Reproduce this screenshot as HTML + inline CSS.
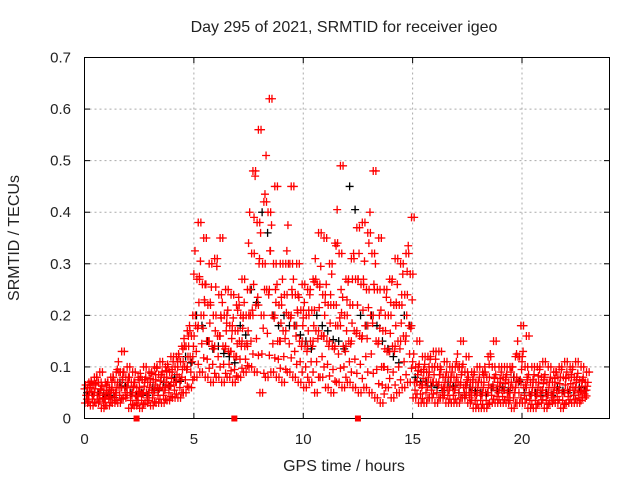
<!DOCTYPE html>
<html><head><meta charset="utf-8"><style>
body{margin:0;background:#fff;}
svg text{font-family:"Liberation Sans",sans-serif;font-size:15px;fill:#222;}
svg text.big{font-size:16px;}
</style></head><body>
<svg id="chart" width="640" height="480" viewBox="0 0 640 480">
<rect width="640" height="480" fill="#fff"/>
<text class="big" x="344" y="32" text-anchor="middle">Day 295 of 2021, SRMTID for receiver igeo</text>
<text class="big" transform="translate(19,238) rotate(-90)" text-anchor="middle">SRMTID / TECUs</text>
<text class="big" x="344" y="471" text-anchor="middle">GPS time / hours</text>
<g id="grid"></g><g id="marks"></g>
<rect x="84.5" y="57.5" width="525" height="361" fill="none" stroke="#000" stroke-width="1"/>
<g id="axes"></g>
</svg>
<script>
const xTicks=[0,5,10,15,20];
const yTicks=[0,0.1,0.2,0.3,0.4,0.5,0.6,0.7];
const yTickLabels=["0","0.1","0.2","0.3","0.4","0.5","0.6","0.7"];
const binHours=0.25;
const redLo=[.03,.025,.03,.02,.025,.03,.03,.04,.02,.025,.02,.03,.025,.03,.03,.035,.04,.04,.05,.06,.08,.09,.08,.07,.08,.07,.08,.07,.08,.09,.1,.09,.05,.08,.09,.08,.07,.09,.08,.07,.06,.07,.05,.08,.06,.05,.07,.06,.07,.06,.05,.06,.05,.04,.03,.06,.04,.05,.06,.07,.04,.03,.03,.04,.03,.04,.03,.03,.03,.04,.03,.02,.02,.02,.03,.03,.03,.03,.02,.03,.03,.02,.02,.03,.02,.03,.03,.02,.03,.03,.03,.04];
const redMid=[.045,.05,.045,.04,.05,.05,.06,.06,.05,.045,.05,.05,.055,.06,.06,.065,.07,.08,.1,.12,.18,.2,.15,.14,.16,.14,.13,.12,.15,.14,.2,.22,.2,.25,.2,.15,.17,.2,.18,.15,.14,.15,.17,.16,.15,.14,.18,.14,.15,.17,.16,.18,.2,.15,.1,.13,.14,.15,.16,.18,.07,.065,.07,.07,.07,.06,.06,.06,.07,.06,.05,.05,.05,.05,.06,.055,.055,.05,.06,.07,.06,.05,.05,.055,.05,.05,.055,.05,.055,.06,.05,.055];
const redUpper=[.06,.065,.07,.055,.06,.07,.09,.08,.07,.06,.075,.07,.075,.085,.08,.09,.1,.11,.14,.16,.27,.26,.22,.2,.24,.2,.18,.17,.2,.2,.32,.38,.3,.4,.3,.22,.24,.3,.24,.21,.2,.21,.26,.24,.22,.22,.32,.2,.22,.27,.26,.25,.32,.25,.17,.2,.22,.22,.24,.28,.1,.09,.09,.1,.1,.08,.08,.08,.1,.09,.07,.07,.07,.08,.1,.07,.08,.07,.08,.12,.1,.07,.07,.08,.07,.07,.08,.08,.08,.08,.075,.07];
const redHi=[.07,.08,.09,.07,.08,.09,.13,.1,.09,.08,.1,.09,.1,.11,.1,.12,.12,.14,.17,.2,.38,.35,.3,.31,.35,.25,.24,.22,.27,.25,.48,.56,.42,.62,.45,.3,.3,.45,.3,.26,.25,.27,.36,.35,.3,.34,.49,.27,.31,.37,.38,.36,.48,.35,.25,.27,.31,.3,.32,.39,.15,.12,.12,.13,.13,.11,.1,.1,.15,.12,.09,.1,.09,.12,.15,.1,.1,.1,.12,.18,.16,.1,.1,.11,.1,.09,.1,.11,.1,.11,.1,.09];
const blackBinHours=0.5;
const blackVals=[.05,.05,.045,.07,.05,.05,.06,.07,.08,.12,.2,.15,.14,.12,.18,.25,.4,.2,.2,.18,.15,.2,.17,.15,.45,.2,.2,.15,.12,.2,.08,.07,.06,.07,.05,.06,.05,.06,.06,.08,.05,.05,.05,.06,.05,.06];
const markTimes=[2.38,6.85,12.5];
const NS="http://www.w3.org/2000/svg";
const X=h=>84.5+h*(525/24);
const Y=v=>418.5-v*(361/0.7);
const grid=document.getElementById('grid'),axes=document.getElementById('axes'),marks=document.getElementById('marks');
function mk(tag,attrs,parent){const e=document.createElementNS(NS,tag);for(const k in attrs)e.setAttribute(k,attrs[k]);parent.appendChild(e);return e;}
yTicks.forEach((v,i)=>{
 if(v>0&&v<0.7){const g=mk('line',{x1:84.5,x2:609.5,y1:Y(v),y2:Y(v),stroke:'#aaa','stroke-dasharray':'2,3'},grid);
 
 }
 mk('line',{x1:84.5,x2:90,y1:Y(v),y2:Y(v),stroke:'#000'},axes);
 mk('line',{x1:604,x2:609.5,y1:Y(v),y2:Y(v),stroke:'#000'},axes);
 const t=mk('text',{x:71,y:Y(v)+5,'text-anchor':'end'},axes);t.textContent=yTickLabels[i];
 
 
});
xTicks.forEach(h=>{
 if(h>0){const g=mk('line',{x1:X(h),x2:X(h),y1:57.5,y2:418.5,stroke:'#aaa','stroke-dasharray':'2,3'},grid);
 
 }
 mk('line',{x1:X(h),x2:X(h),y1:418.5,y2:413,stroke:'#000'},axes);
 mk('line',{x1:X(h),x2:X(h),y1:57.5,y2:63,stroke:'#000'},axes);
 const t=mk('text',{x:X(h),y:444,'text-anchor':'middle'},axes);t.textContent=String(h);
 
 
});
function cross(h,v,color,name){
 const x=X(h),y=Y(v);
 const p=mk('path',{d:`M${x-4},${y}h8M${x},${y-4}v8`,stroke:color,'stroke-width':1.3,fill:'none'},marks);
 
 
}
blackVals.forEach((v,i)=>{cross(i*blackBinHours+0.12,v,'#000','black-point');cross(i*blackBinHours+0.37,v*0.9,'#000','black-point');});
const series=[[redLo,0.02],[redMid,0.08],[redUpper,0.14],[redHi,0.2]];
series.forEach(([arr,off])=>arr.forEach((v,i)=>{cross(i*binHours+off,v,'#f00','red-point');cross(i*binHours+off+0.12,v,'#f00','red-point');}));
redLo.forEach((v,i)=>{
 cross(i*binHours+0.11,(redLo[i]+redMid[i])/2,'#f00','red-point');
 cross(i*binHours+0.23,(redMid[i]+redUpper[i])/2,'#f00','red-point');
 cross(i*binHours+0.05,(redUpper[i]+redHi[i])/2,'#f00','red-point');
 cross(i*binHours+0.17,(redLo[i]+redUpper[i])/2,'#f00','red-point');
 cross(i*binHours+0.0,(redMid[i]+redHi[i])/2,'#f00','red-point');
 cross(i*binHours+0.2,(redLo[i]*3+redMid[i])/4,'#f00','red-point');
});
markTimes.forEach(h=>{const r=mk('rect',{x:X(h)-3,y:415.5,width:6,height:6,fill:'#f00'},axes);
 
 });
</script>
</body></html>
